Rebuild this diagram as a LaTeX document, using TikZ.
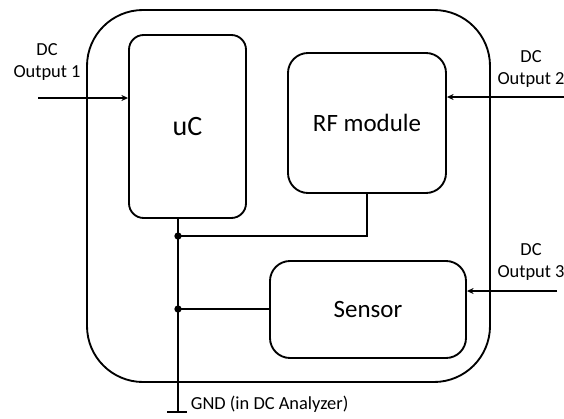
\documentclass[tikz,border=0pt]{standalone}
\usepackage{fontspec}
\setmainfont{Carlito}
\usetikzlibrary{arrows.meta}
\begin{document}
\begin{tikzpicture}[x=0.75pt,y=-0.75pt,
  line width=1.4pt,
  box/.style={draw, rounded corners=#1, inner sep=0pt},
  dot/.style={circle, fill, inner sep=0pt, minimum size=5.5pt},
  feed/.style={-{Stealth[length=5pt,width=4.5pt]}},
  small/.style={font=\fontsize{13.8}{16}\selectfont, align=center, inner sep=0pt},
]
\useasboundingbox (0,0) rectangle (564,418);

% board outline and blocks
\node[box=42pt, minimum width=302.25pt, minimum height=279pt] (board) at (288.5,196) {};
\node[box=11pt, minimum width=87.75pt, minimum height=137.25pt,
      font=\fontsize{21}{24}\selectfont] (uc) at (187.5,126.5) {uC};
\node[box=15pt, minimum width=118.5pt, minimum height=105pt,
      font=\fontsize{18.7}{22}\selectfont] (rf) at (367,123) {RF module};
\node[box=15pt, minimum width=147pt, minimum height=72.75pt,
      font=\fontsize{18.7}{22}\selectfont] (sensor) at (368,309.5) {Sensor};

% supply inputs
\coordinate (in1) at (38,98);
\coordinate (in2) at (564,97);
\coordinate (in3) at (557,291);
\draw[feed] (in1) -- (in1 -| uc.west);
\draw[feed] (in2) -- (in2 -| rf.east);
\draw[feed] (in3) -- (in3 -| sensor.east);
\node[small] (lbl1) at (47,62) {DC\\Output 1};
\node[small] (lbl2) at (531,69) {DC\\Output 2};
\node[small] (lbl3) at (531,262) {DC\\Output 3};

% ground bus
\coordinate (gnd) at (178,412);
\node[dot] (j1) at (178,236) {};
\node[dot] (j2) at (178,309) {};
\draw (gnd |- uc.south) -- (gnd);
\draw (rf.south) -- (rf.south |- j1) -- (j1.center);
\draw (j2.center) -- (j2 -| sensor.west);
\draw (167,412) coordinate (t1) -- (187,412) coordinate (t2);
\node[small, anchor=west] (gndlbl) at (190,404) {GND (in DC Analyzer)};
\end{tikzpicture}
\end{document}
